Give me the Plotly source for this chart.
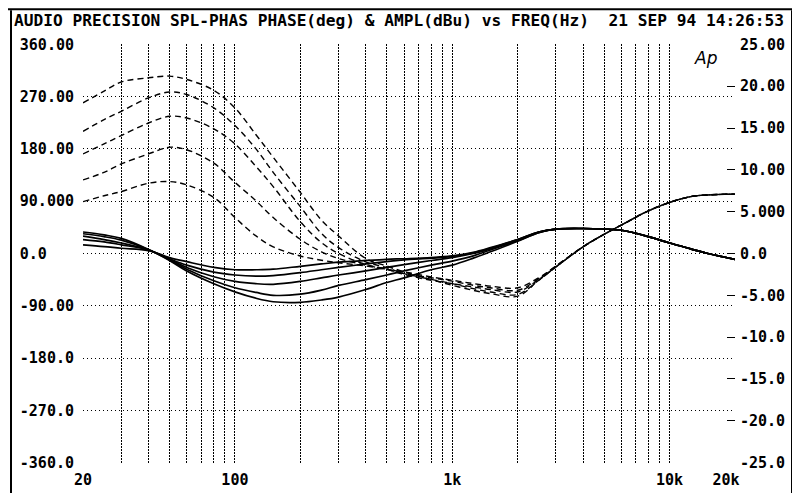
import math
import plotly.graph_objects as go

# ---- data ----
freq_hz = [20, 25, 30, 40, 50, 60, 80, 100, 125, 150, 200, 250, 300, 400, 500, 600,
           800, 1000, 1250, 1500, 2000, 2500, 3000, 4000, 5000, 6000, 8000, 10000,
           12500, 15000, 20000]

# phase (deg) - solid traces, left axis
phase_1 = [37, 32, 26, 7, -12, -30, -52, -66, -77, -83, -84, -80, -75, -62, -50, -42,
           -28, -20, -8, 3, 21, 36, 42, 43, 42, 40, 29, 18, 8, 0, -10]
phase_2 = [34, 29, 23, 7, -11, -27, -47, -59, -67, -72, -70, -63, -55, -45, -37, -30,
           -20, -13, -4, 6, 22, 36, 42, 43, 42, 40, 29, 18, 8, 0, -10]
phase_3 = [30, 24, 18, 6, -10, -24, -40, -48, -52, -53, -48, -42, -37, -30, -24, -19,
           -12, -7, 0, 8, 23, 37, 42, 43, 42, 40, 29, 18, 8, 0, -10]
phase_4 = [24, 20, 15, 6, -9, -20, -32, -37, -39, -38, -33, -28, -24, -18, -14, -11,
           -8, -5, 1, 9, 24, 37, 42, 43, 42, 40, 29, 18, 8, 0, -10]
phase_5 = [15, 12, 9, 5, -7, -14, -24, -28, -28, -27, -22, -18, -15, -12, -10, -9,
           -7, -4, 2, 10, 24, 37, 42, 43, 42, 40, 29, 18, 8, 0, -10]

# amplitude (dBu) - dashed traces, right axis
ampl_1 = [18.0, 19.4, 20.5, 21.0, 21.2, 20.8, 19.5, 17.4, 14.2, 11.5, 7.3, 4.0, 2.1,
          -0.6, -1.5, -2.2, -3.1, -3.8, -4.4, -4.8, -5.1, -3.2, -1.6, 0.8, 2.3, 3.4,
          5.1, 6.1, 6.8, 7.0, 7.1]
ampl_2 = [14.6, 16.0, 17.0, 18.6, 19.3, 19.0, 17.4, 15.3, 12.5, 9.7, 5.6, 2.4, 0.7,
          -1.0, -1.7, -2.4, -3.1, -3.6, -4.2, -4.6, -4.9, -3.2, -1.6, 0.8, 2.3, 3.4,
          5.1, 6.1, 6.8, 7.0, 7.1]
ampl_3 = [11.9, 13.1, 14.1, 15.6, 16.4, 16.2, 14.9, 13.1, 10.4, 8.0, 3.8, 1.3, 0.0,
          -1.3, -1.9, -2.5, -3.2, -3.6, -4.0, -4.3, -4.6, -3.1, -1.6, 0.8, 2.3, 3.4,
          5.1, 6.1, 6.8, 7.0, 7.1]
ampl_4 = [8.8, 9.7, 10.7, 11.9, 12.7, 12.4, 10.8, 8.5, 6.3, 4.3, 1.7, 0.2, -0.6,
          -1.4, -1.9, -2.4, -2.9, -3.3, -3.8, -4.1, -4.4, -3.0, -1.5, 0.8, 2.3, 3.4,
          5.1, 6.1, 6.8, 7.0, 7.1]
ampl_5 = [6.2, 6.9, 7.4, 8.4, 8.6, 8.2, 6.7, 4.3, 2.1, 0.8, -0.3, -0.8, -1.1,
          -1.5, -1.9, -2.2, -2.8, -3.2, -3.6, -3.9, -4.1, -2.9, -1.5, 0.8, 2.3, 3.4,
          5.1, 6.1, 6.8, 7.0, 7.1]

x_tickvals = [20, 30, 40, 50, 60, 70, 80, 90, 100, 200, 300, 400, 500, 600, 700, 800,
              900, 1000, 2000, 3000, 4000, 5000, 6000, 7000, 8000, 9000, 10000, 20000]
x_labels = {20: "20", 100: "100", 1000: "1k", 10000: "10k",
            20000: "20k\u00a0\u00a0"}
left_tickvals = [360, 270, 180, 90, 0, -90, -180, -270, -360]
left_ticktext = ["360.00", "270.00", "180.00", "90.000", "0.0\u00a0\u00a0\u00a0",
                 "-90.00", "-180.0", "-270.0", "-360.0"]
right_tickvals = [25, 20, 15, 10, 5, 0, -5, -10, -15, -20, -25]
right_ticktext = ["25.00", "20.00", "15.00", "10.00", "5.000", "0.0", "-5.00",
                  "-10.0", "-15.0", "-20.0", "-25.0"]

title_text = "AUDIO PRECISION SPL-PHAS PHASE(deg) & AMPL(dBu) vs FREQ(Hz)  21 SEP 94 14:26:53"

FONT = "DejaVu Sans Mono"

fig = go.Figure()
for amp in [ampl_1, ampl_2, ampl_3, ampl_4, ampl_5]:
    fig.add_trace(go.Scatter(x=freq_hz, y=amp, yaxis="y2", mode="lines",
                             line=dict(color="black", width=1.4, dash="6px,4px",
                                       shape="spline", smoothing=1.0),
                             showlegend=False, hoverinfo="skip"))
for ph in [phase_1, phase_2, phase_3, phase_4, phase_5]:
    fig.add_trace(go.Scatter(x=freq_hz, y=ph, mode="lines",
                             line=dict(color="black", width=1.7,
                                       shape="spline", smoothing=1.0),
                             showlegend=False, hoverinfo="skip"))

# the page is offset by the browser's 8px body margin; lay out in figure pixels
OFF = 8
L, T = 83 - OFF, 44 - OFF
W, H = 800, 493
pw, ph_ = 652, 422
R = W - L - pw
B = H - T - ph_


def px(page_x):
    return (page_x - OFF - L) / pw


def py(page_y):
    return 1 - (page_y - OFF - T) / ph_


tick_font = dict(family=FONT, size=15, color="black", weight="bold")
YPAD = 0.6  # tiny range padding so the edge gridlines get drawn

fig.update_layout(
    width=W, height=H,
    margin=dict(l=L, r=R, t=T, b=B, pad=0),
    paper_bgcolor="white", plot_bgcolor="white",
    font=dict(family=FONT, size=16, color="black", weight="bold"),
    xaxis=dict(type="log",
               range=[math.log10(20) - 1e-4, math.log10(20000) + 1e-4],
               tickvals=x_tickvals,
               ticktext=[x_labels.get(v, "") for v in x_tickvals],
               showgrid=True, gridcolor="black", gridwidth=1, griddash="2px,1px",
               zeroline=False, showline=False, ticks="", ticklabelstandoff=6,
               tickfont=tick_font),
    yaxis=dict(range=[-360 - YPAD, 360 + YPAD], tickvals=left_tickvals,
               ticktext=left_ticktext,
               showgrid=True, gridcolor="black", gridwidth=1, griddash="1px,3px",
               zeroline=False, showline=False, ticks="", ticklabelstandoff=8,
               tickfont=tick_font),
    yaxis2=dict(range=[-25 - YPAD / 14.4, 25 + YPAD / 14.4], overlaying="y",
                side="right",
                tickvals=right_tickvals, ticktext=right_ticktext,
                showgrid=False, zeroline=False, showline=False,
                ticks="inside", ticklen=8, tickcolor="black", tickwidth=1,
                ticklabelstandoff=4, tickfont=tick_font),
)

fig.add_annotation(text=title_text, xref="paper", yref="paper",
                   x=px(12), y=py(20), xanchor="left", yanchor="middle",
                   showarrow=False,
                   font=dict(family=FONT, size=16.2, color="black", weight="bold"))
fig.add_annotation(text="<i>Ap</i>", xref="paper", yref="paper",
                   x=px(706), y=py(58), xanchor="center", yanchor="middle",
                   showarrow=False,
                   font=dict(family="DejaVu Sans", size=17, color="black", weight="normal"))

# outer frame of the printout
fig.add_shape(type="line", xref="paper", yref="paper", x0=px(0), x1=px(800),
              y0=py(9), y1=py(9), line=dict(color="black", width=2))
fig.add_shape(type="line", xref="paper", yref="paper", x0=px(11), x1=px(11),
              y0=py(10), y1=py(500), line=dict(color="black", width=2))
fig.add_shape(type="line", xref="paper", yref="paper", x0=px(792), x1=px(792),
              y0=py(10), y1=py(500), line=dict(color="black", width=2))

fig.write_html("out.html")
